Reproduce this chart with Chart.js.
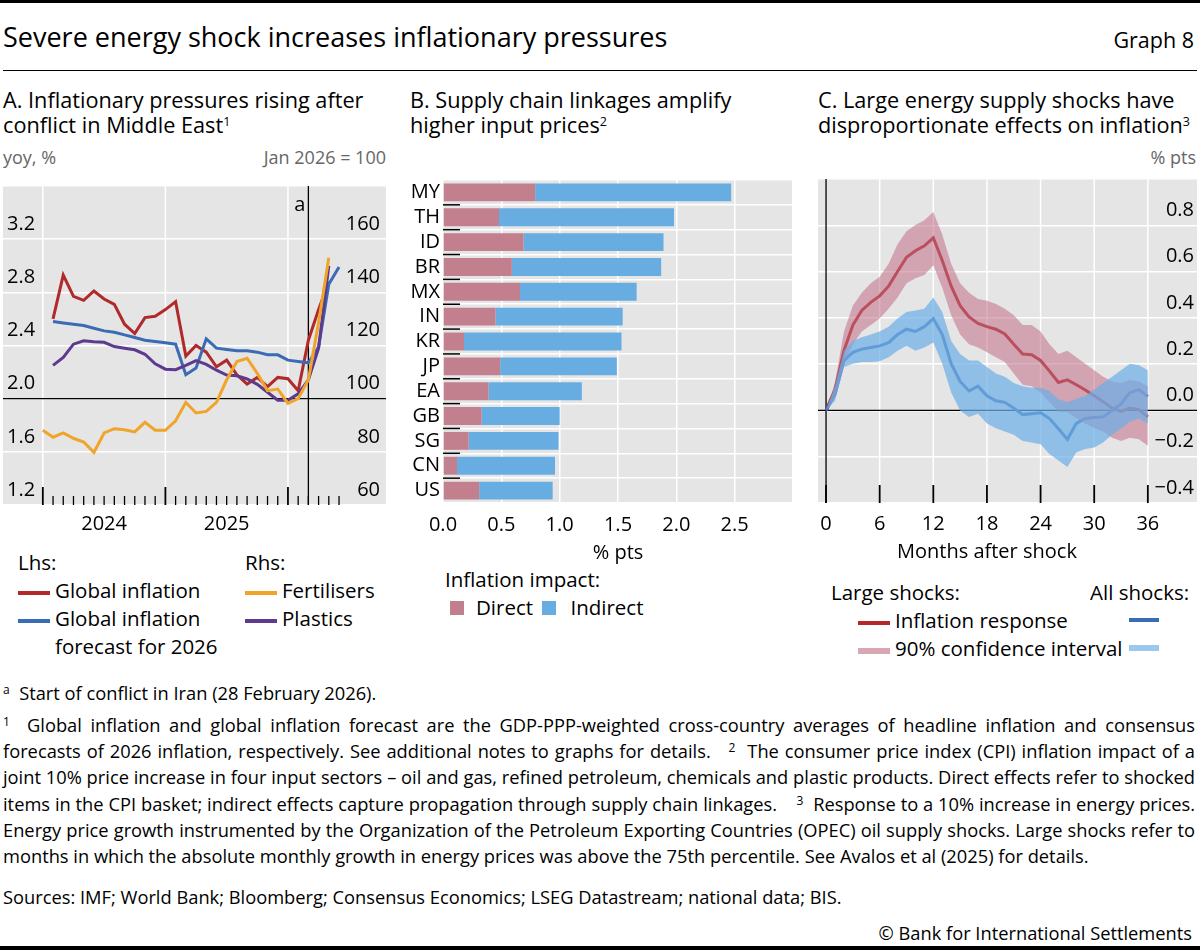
<!DOCTYPE html>
<html><head><meta charset="utf-8">
<script src="https://cdn.jsdelivr.net/npm/chart.js@4"></script>
<style>
body{margin:0;width:1200px;height:950px;background:#fff;font-family:"Open Sans",sans-serif;color:#000;position:relative;overflow:hidden}
.a{position:absolute;white-space:nowrap}
canvas{position:absolute}
.ttl{font-size:21.7px;line-height:25px}
.unit{font-size:18px;color:#666;line-height:24px}
.lg{font-size:20.5px;line-height:28px}
.ln{display:inline-block;width:32px;height:4px;vertical-align:middle;margin-right:5px}
.fn{position:absolute;left:3px;width:1192px;font-size:18.3px;line-height:26.2px;text-align:justify}
sup{font-size:12.5px;vertical-align:top;position:relative;top:-3px}
.fn sup{font-size:12px}
</style></head><body>
<div class="a" style="left:0;top:0;width:1200px;height:3px;background:#000"></div>
<div class="a" style="left:3px;top:18px;font-size:27px;line-height:37px">Severe energy shock increases inflationary pressures</div>
<div class="a" style="right:6px;top:25px;font-size:21.5px;line-height:30px">Graph 8</div>
<div class="a" style="left:3px;top:70px;width:1194px;height:1.3px;background:#000"></div>

<div class="a ttl" style="left:3px;top:87px">A. Inflationary pressures rising after<br>conflict in Middle East<sup>1</sup></div>
<div class="a ttl" style="left:410px;top:87px">B. Supply chain linkages amplify<br>higher input prices<sup>2</sup></div>
<div class="a ttl" style="left:818px;top:87px">C. Large energy supply shocks have<br>disproportionate effects on inflation<sup>3</sup></div>
<div class="a unit" style="left:3px;top:145px">yoy, %</div>
<div class="a unit" style="right:814px;top:145px">Jan 2026 = 100</div>
<div class="a unit" style="right:4px;top:145px">% pts</div>

<canvas id="cA" style="left:3px;top:170px" width="383" height="375"></canvas>
<canvas id="cB" style="left:400px;top:165px" width="400" height="400"></canvas>
<canvas id="cC" style="left:818px;top:170px" width="379" height="395"></canvas>

<div class="a lg" style="left:18px;top:548px">Lhs:<br><span class="ln" style="background:#b02a2a"></span>Global inflation<br><span class="ln" style="background:#3a6bb4"></span>Global inflation<br><span style="display:inline-block;width:37px"></span>forecast for 2026</div>
<div class="a lg" style="left:245px;top:548px">Rhs:<br><span class="ln" style="background:#f0a52a"></span>Fertilisers<br><span class="ln" style="background:#5c3a8e"></span>Plastics</div>

<div class="a lg" style="left:445px;top:565px">Inflation impact:<br><span style="display:inline-block;width:14px;height:14px;background:#c27f8e;margin:0 12px 0 5px"></span>Direct <span style="display:inline-block;width:14px;height:14px;background:#68ade2;margin:0 14px 0 4px"></span>Indirect</div>

<div class="a lg" style="left:831px;top:578px">Large shocks:</div>
<div class="a lg" style="left:1090px;top:578px">All shocks:</div>
<div class="a lg" style="left:858px;top:606px"><span class="ln" style="background:#b02a2a"></span>Inflation response</div>
<div class="a lg" style="left:858px;top:634px"><span class="ln" style="background:#d8a7b1;height:6px"></span>90% confidence interval</div>
<div class="a" style="left:1129px;top:618px;width:30px;height:4px;background:#3a6bb4"></div>
<div class="a" style="left:1129px;top:645px;width:30px;height:6px;background:#9dc8ee"></div>

<div class="fn" style="top:680px"><sup>a</sup>&nbsp; Start of conflict in Iran (28 February 2026).</div>
<div class="fn" style="top:712px"><sup>1</sup>&nbsp; Global inflation and global inflation forecast are the GDP-PPP-weighted cross-country averages of headline inflation and consensus forecasts of 2026 inflation, respectively. See additional notes to graphs for details. &nbsp; <sup>2</sup>&nbsp; The consumer price index (CPI) inflation impact of a joint 10% price increase in four input sectors – oil and gas, refined petroleum, chemicals and plastic products. Direct effects refer to shocked items in the CPI basket; indirect effects capture propagation through supply chain linkages. &nbsp;&nbsp; <sup>3</sup>&nbsp; Response to a 10% increase in energy prices. Energy price growth instrumented by the Organization of the Petroleum Exporting Countries (OPEC) oil supply shocks. Large shocks refer to months in which the absolute monthly growth in energy prices was above the 75th percentile. See Avalos et al (2025) for details.</div>
<div class="fn" style="top:884px">Sources: IMF; World Bank; Bloomberg; Consensus Economics; LSEG Datastream; national data; BIS.</div>
<div class="a" style="right:8px;top:920px;font-size:18.3px;line-height:26px">© Bank for International Settlements</div>
<div class="a" style="left:0;top:946px;width:1200px;height:4px;background:#000"></div>

<script>
// ---------- Panel A data (month index 0 = Jan 2024) ----------
const monthsA = Array.from({length:30},(_,i)=>i);
const globalInflation = [null,2.60,2.93,2.77,2.74,2.81,2.75,2.71,2.56,2.49,2.61,2.62,2.67,2.73,2.32,2.40,2.35,2.24,2.29,2.18,2.11,2.16,2.09,2.16,2.15,2.06,2.44,2.67,2.88,null];
const inflationForecast = [null,2.58,2.57,2.56,2.55,2.53,2.51,2.50,2.48,2.46,2.44,2.43,2.42,2.41,2.18,2.23,2.45,2.38,2.37,2.36,2.36,2.35,2.33,2.33,2.29,2.28,2.27,2.39,2.86,2.99];
const fertilisers = [88.1,85.5,87.1,85.1,83.7,79.8,87.1,88.7,88.3,87.5,91.1,88.1,88.1,91.7,98.6,94.6,95.2,98.6,107.1,114.0,115.2,109.5,103.0,103.6,98.2,100.0,107.1,128.6,153.0,null];
const plastics = [null,112.5,115.5,120.5,121.8,121.4,121.2,119.6,119.0,118.4,116.7,113.1,111.1,110.9,112.5,114.3,112.9,110.7,108.9,108.6,107.4,105.4,102.4,99.4,99.4,101.8,107.1,119.0,150.0,null];
const yearLabelsA = ['2024','2025'];
const conflictMonth = 26;
// ---------- Panel B data ----------
const countries = ['MY','TH','ID','BR','MX','IN','KR','JP','EA','GB','SG','CN','US'];
const directImpact = [0.79,0.48,0.69,0.59,0.66,0.45,0.18,0.49,0.39,0.33,0.22,0.12,0.31];
const indirectImpact = [1.68,1.50,1.20,1.28,1.00,1.09,1.35,1.00,0.80,0.67,0.77,0.84,0.63];
const ticksB = [0,0.5,1,1.5,2,2.5];
// ---------- Panel C data (months after shock 0..36) ----------
const monthsC = Array.from({length:37},(_,i)=>i);
const largeResp = [0,0.09,0.258,0.369,0.432,0.467,0.495,0.537,0.60,0.662,0.69,0.711,0.746,0.648,0.537,0.453,0.404,0.376,0.362,0.351,0.33,0.286,0.244,0.241,0.216,0.17,0.121,0.132,0.111,0.088,0.063,0.038,0.01,-0.004,0.01,0.003,-0.028];
const largeUpper = [0,0.12,0.34,0.453,0.509,0.55,0.578,0.634,0.718,0.774,0.801,0.822,0.857,0.76,0.634,0.55,0.509,0.481,0.474,0.46,0.439,0.411,0.369,0.369,0.341,0.286,0.244,0.258,0.23,0.202,0.174,0.146,0.125,0.118,0.132,0.125,0.105];
const largeLower = [0,0.063,0.20,0.286,0.341,0.369,0.397,0.439,0.488,0.55,0.571,0.585,0.627,0.53,0.411,0.328,0.286,0.272,0.251,0.23,0.209,0.16,0.111,0.105,0.077,0.035,-0.007,-0.007,-0.035,-0.056,-0.077,-0.091,-0.118,-0.132,-0.118,-0.125,-0.153];
const allResp = [0,0.07,0.216,0.251,0.265,0.272,0.279,0.293,0.328,0.351,0.341,0.362,0.397,0.328,0.202,0.125,0.084,0.105,0.063,0.042,0.035,0.01,-0.018,-0.014,-0.01,-0.035,-0.079,-0.125,-0.056,-0.035,-0.031,-0.028,0,0.028,0.077,0.09,0.06];
const allUpper = [0,0.105,0.258,0.30,0.316,0.328,0.341,0.362,0.397,0.425,0.432,0.439,0.488,0.425,0.30,0.244,0.216,0.216,0.188,0.16,0.146,0.118,0.105,0.098,0.098,0.084,0.049,0.035,0.049,0.063,0.09,0.118,0.146,0.174,0.202,0.195,0.174];
const allLower = [0,0.042,0.188,0.202,0.209,0.209,0.213,0.23,0.258,0.279,0.258,0.272,0.293,0.202,0.077,0,-0.028,-0.014,-0.056,-0.077,-0.091,-0.105,-0.132,-0.139,-0.146,-0.188,-0.216,-0.244,-0.181,-0.167,-0.16,-0.139,-0.105,-0.077,-0.049,-0.035,-0.056];
const ticksC = [0,6,12,18,24,30,36];

const GRAY='#e5e5e5', FONT='"Open Sans", sans-serif';
Chart.defaults.font.family = FONT;
Chart.defaults.animation = false;
const bgPlugin = {id:'bg',beforeDraw(c){const {ctx,chartArea:a}=c;ctx.save();ctx.fillStyle=GRAY;ctx.fillRect(0,a.top,c.width,a.bottom-a.top);ctx.restore();}};
const pts = (xs,ys)=>xs.map((x,i)=>({x,y:ys[i]}));
const lineDs=(label,data,color,axis)=>({label,data,borderColor:color,borderWidth:3,pointRadius:0,yAxisID:axis,spanGaps:false,tension:0});
const fmt=v=>Math.abs(v)<1e-9?'0.0':(v<0?'\u2212'+Math.abs(v).toFixed(1):v.toFixed(1));

// ---------- Panel A ----------
new Chart(document.getElementById('cA'),{
 type:'line',
 data:{datasets:[
  lineDs('Fertilisers',pts(monthsA,fertilisers),'#f0a52a','yR'),
  lineDs('Plastics',pts(monthsA,plastics),'#5c3a8e','yR'),
  lineDs('Global inflation forecast for 2026',pts(monthsA,inflationForecast),'#3a6bb4','yL'),
  lineDs('Global inflation',pts(monthsA,globalInflation),'#b02a2a','yL')
 ]},
 options:{responsive:false,layout:{padding:{bottom:40}},
  plugins:{legend:{display:false},tooltip:{enabled:false}},
  scales:{
   x:{type:'linear',min:-3.9,max:33.6,display:false},
   yL:{position:'left',min:1.2,max:3.6,afterFit(s){s.width=0},border:{display:false},
     grid:{color:'#fff',lineWidth:1.5,drawTicks:false},
     ticks:{stepSize:0.4,mirror:true,padding:4,labelOffset:-15,font:{size:20},color:'#000',callback:v=>v>3.5?'':v.toFixed(1)}},
   yR:{position:'right',min:60,max:180,afterFit(s){s.width=0},border:{display:false},grid:{display:false},
     ticks:{stepSize:20,mirror:true,padding:-6,labelOffset:-15,font:{size:20},color:'#000',callback:v=>v>170?'':v}}
  }},
 plugins:[bgPlugin,{id:'axA',
  beforeDatasetsDraw(c){const {ctx,chartArea:a}=c,x=c.scales.x;ctx.save();ctx.strokeStyle='#fff';ctx.lineWidth=1.5;
   [0,12,24].forEach(m=>{const p=x.getPixelForValue(m);ctx.beginPath();ctx.moveTo(p,a.top);ctx.lineTo(p,a.bottom);ctx.stroke();});
   const yl=c.scales.yL.getPixelForValue(2.0);ctx.strokeStyle='#000';ctx.lineWidth=1.3;ctx.beginPath();ctx.moveTo(0,yl);ctx.lineTo(c.width,yl);ctx.stroke();
   const px=x.getPixelForValue(conflictMonth);ctx.beginPath();ctx.moveTo(px,a.top);ctx.lineTo(px,a.bottom);ctx.stroke();
   ctx.restore();},
  afterDraw(c){const {ctx,chartArea:a}=c,x=c.scales.x;ctx.save();ctx.strokeStyle='#000';
   monthsA.forEach(m=>{const p=x.getPixelForValue(m);const big=m%12===0;ctx.lineWidth=big?1.8:1.3;ctx.beginPath();ctx.moveTo(p,a.bottom);ctx.lineTo(p,a.bottom-(big?18:9));ctx.stroke();});
   ctx.fillStyle='#000';ctx.font='20px '+FONT;ctx.textAlign='center';ctx.textBaseline='middle';
   yearLabelsA.forEach((l,i)=>ctx.fillText(l,x.getPixelForValue(6+12*i),a.bottom+19));
   ctx.textAlign='right';ctx.fillText('a',x.getPixelForValue(conflictMonth)-3,a.top+19);
   ctx.restore();}}]
});

// ---------- Panel B ----------
new Chart(document.getElementById('cB'),{
 type:'bar',
 data:{labels:countries,datasets:[
  {label:'Direct',data:directImpact,backgroundColor:'#c27f8e',barPercentage:0.72,categoryPercentage:1},
  {label:'Indirect',data:indirectImpact,backgroundColor:'#68ade2',barPercentage:0.72,categoryPercentage:1}
 ]},
 options:{responsive:false,indexAxis:'y',layout:{padding:{top:5,right:7,bottom:0}},
  plugins:{legend:{display:false},tooltip:{enabled:false}},
  scales:{
   x:{stacked:true,min:0,max:3,afterFit(s){s.height=62},border:{display:false},grid:{color:'#fff',lineWidth:1.5,drawTicks:false},
     ticks:{stepSize:0.5,display:false}},
   y:{stacked:true,afterFit(s){s.width=43},border:{display:false},grid:{offset:true,color:'#fff',lineWidth:1.5,drawTicks:false},
     ticks:{autoSkip:false,padding:3,font:{size:20},color:'#000'}}
  }},
 plugins:[{id:'bgB',beforeDraw(c){const {ctx,chartArea:a}=c;ctx.save();ctx.fillStyle=GRAY;ctx.fillRect(a.left,a.top,a.right-a.left,a.bottom-a.top);ctx.restore();},
  afterDraw(c){const {ctx,chartArea:a}=c,y=c.scales.y,x=c.scales.x;ctx.save();ctx.strokeStyle='#000';ctx.lineWidth=1.5;
   countries.forEach((_,i)=>{if(i===countries.length-1)return;const p=(y.getPixelForValue(i)+y.getPixelForValue(i+1))/2;ctx.beginPath();ctx.moveTo(a.left,p);ctx.lineTo(a.left+17,p);ctx.stroke();});
   ctx.fillStyle='#000';ctx.font='20px '+FONT;ctx.textAlign='center';ctx.textBaseline='middle';
   ticksB.forEach(v=>ctx.fillText(v.toFixed(1),x.getPixelForValue(v),a.bottom+22));
   ctx.fillText('% pts',(a.left+a.right)/2,a.bottom+50);
   ctx.restore();}}]
});

// ---------- Panel C ----------
new Chart(document.getElementById('cC'),{
 type:'line',
 data:{datasets:[
  {data:pts(monthsC,allLower),borderWidth:0,pointRadius:0,fill:false},
  {data:pts(monthsC,allUpper),borderWidth:0,pointRadius:0,fill:'-1',backgroundColor:'rgba(110,175,230,0.72)'},
  {data:pts(monthsC,largeLower),borderWidth:0,pointRadius:0,fill:false},
  {data:pts(monthsC,largeUpper),borderWidth:0,pointRadius:0,fill:'-1',backgroundColor:'rgba(195,110,135,0.55)'},
  {label:'All shocks',data:pts(monthsC,allResp),borderColor:'#3a6bb4',borderWidth:3,pointRadius:0},
  {label:'Large shocks',data:pts(monthsC,largeResp),borderColor:'#b02a2a',borderWidth:3,pointRadius:0}
 ]},
 options:{responsive:false,layout:{padding:{bottom:62}},
  plugins:{legend:{display:false},tooltip:{enabled:false},filler:{propagate:false}},
  scales:{
   x:{type:'linear',min:-0.9,max:41.5,display:false},
   y:{position:'right',min:-0.4,max:1.0,afterFit(s){s.width=0},border:{display:false},
     grid:{color:'#fff',lineWidth:1.5,drawTicks:false},
     ticks:{stepSize:0.2,mirror:true,padding:-3,labelOffset:-15,font:{size:20},color:'#000',
       callback:v=>v>0.9?'':fmt(v)}}
  }},
 plugins:[bgPlugin,{id:'axC',
  beforeDatasetsDraw(c){const {ctx,chartArea:a}=c,x=c.scales.x,y=c.scales.y;ctx.save();ctx.strokeStyle='#fff';ctx.lineWidth=1.5;
   ticksC.slice(1).forEach(m=>{const p=x.getPixelForValue(m);ctx.beginPath();ctx.moveTo(p,a.top);ctx.lineTo(p,a.bottom);ctx.stroke();});
   ctx.strokeStyle='#000';ctx.lineWidth=1.3;const y0=y.getPixelForValue(0);ctx.beginPath();ctx.moveTo(0,y0);ctx.lineTo(c.width,y0);ctx.stroke();
   const x0=x.getPixelForValue(0);ctx.beginPath();ctx.moveTo(x0,a.top);ctx.lineTo(x0,a.bottom);ctx.stroke();ctx.restore();},
  afterDraw(c){const {ctx,chartArea:a}=c,x=c.scales.x;ctx.save();ctx.strokeStyle='#000';ctx.lineWidth=1.8;ctx.fillStyle='#000';
   ctx.font='20px '+FONT;ctx.textAlign='center';ctx.textBaseline='middle';
   ticksC.forEach(m=>{const p=x.getPixelForValue(m);ctx.beginPath();ctx.moveTo(p,a.bottom);ctx.lineTo(p,a.bottom-18);ctx.stroke();ctx.fillText(String(m),p,a.bottom+21);});
   ctx.fillText('Months after shock',(x.getPixelForValue(0)+x.getPixelForValue(36))/2,a.bottom+49);
   ctx.restore();}}]
});
</script>
</body></html>
